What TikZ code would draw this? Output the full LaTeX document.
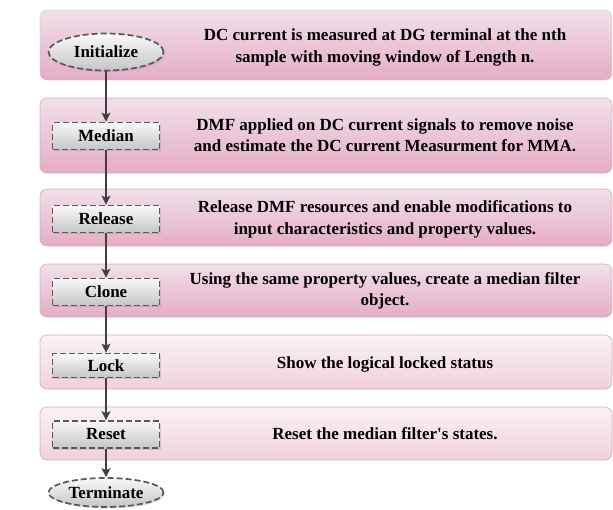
\documentclass[tikz,border=0pt]{standalone}
\usepackage{xcolor}
\usepackage{fontspec}
\setmainfont{Liberation Serif}[Ligatures=TeXOff]
\usetikzlibrary{shapes.geometric,shadows,arrows.meta}
\definecolor{pinktop}{RGB}{241,224,234}
\definecolor{pinkbot}{RGB}{229,172,198}
\definecolor{paletop}{RGB}{250,242,246}
\definecolor{palebot}{RGB}{241,208,221}
\definecolor{pinkline}{RGB}{214,170,192}
\definecolor{dashgray}{RGB}{88,88,88}

\begin{document}
\begin{tikzpicture}[x=1pt,y=1pt,
  panel/.style={rectangle, rounded corners=7pt, draw=pinkline, line width=0.6pt,
    top color=pinktop, bottom color=pinkbot, minimum width=572pt, inner sep=0pt},
  palepanel/.style={panel, top color=paletop, bottom color=palebot},
  stepbox/.style={rectangle, draw=dashgray, dash pattern=on 6pt off 3pt, line width=1.7pt,
    top color=gray!5, bottom color=gray!45, minimum width=107pt, minimum height=27pt,
    inner sep=1pt, font=\fontsize{17}{20}\selectfont\bfseries,
    drop shadow={opacity=0.25, shadow xshift=1.5pt, shadow yshift=-1.5pt}},
  terminal/.style={stepbox, ellipse, minimum width=115pt},
  desc/.style={align=center, font=\fontsize{17}{21.5}\selectfont\bfseries},
  flow/.style={-{Stealth[length=9pt,width=9pt,inset=2pt]}, line width=1.2pt, draw=black!75}]
\useasboundingbox (0,0) rectangle (613,-509);
% Panels
\node[panel, draw=gray!55, densely dotted, minimum height=70pt] (p1) at (326,-45) {};
\node[panel, minimum height=75pt] (p2) at (326,-135.5) {};
\node[panel, minimum height=57pt] (p3) at (326,-217.5) {};
\node[panel, minimum height=53pt] (p4) at (326,-290.5) {};
\node[palepanel, minimum height=54pt] (p5) at (326,-362) {};
\node[palepanel, minimum height=53pt] (p6) at (326,-433.5) {};
% Descriptions
\node[desc] (d1) at (385,-47.5) {DC current is measured at DG terminal at the nth\\sample with moving window of Length n.};
\node[desc] (d2) at (385,-135) {DMF applied on DC current signals to remove noise\\and estimate the DC current Measurment for MMA.};
\node[desc] (d3) at (385,-219.5) {Release DMF resources and enable modifications to\\input characteristics and property values.};
\node[desc] (d4) at (385,-291) {Using the same property values, create a median filter\\object.};
\node[desc] (d5) at (385,-364) {Show the logical locked status};
\node[desc] (d6) at (385,-434) {Reset the median filter's states.};
% Steps
\node[terminal, minimum height=37pt] (init) at (106,-52) {Initialize};
\node[stepbox] (median) at (106,-136) {Median};
\node[stepbox] (release) at (106,-219) {Release};
\node[stepbox] (clone) at (106,-292) {Clone};
\node[stepbox, minimum height=24pt] (lock) at (106,-365.5) {Lock};
\node[stepbox] (reset) at (106,-434.5) {Reset};
\node[terminal, minimum height=29pt] (term) at (106,-492.5) {Terminate};
% Flow
\draw[flow] (init) -- (median);
\draw[flow] (median) -- (release);
\draw[flow] (release) -- (clone);
\draw[flow] (clone) -- (lock);
\draw[flow] (lock) -- (reset);
\draw[flow] (reset) -- (term);
\end{tikzpicture}
\end{document}
